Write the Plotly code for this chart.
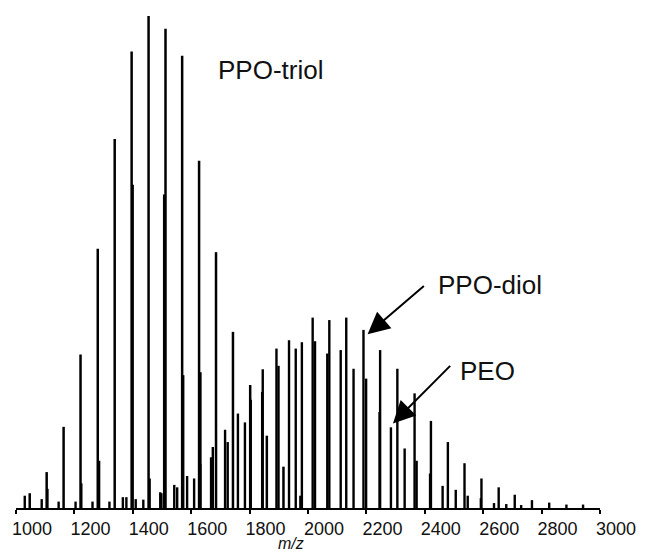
import plotly.graph_objects as go

# ---- data (m/z, relative intensity %) ----
triol_mz = [1047, 1105, 1163, 1221, 1280, 1338, 1396, 1454, 1512, 1569, 1627, 1685,
            1743, 1802, 1859, 1916, 1974]
triol_int = [3.0, 7.3, 16.5, 31.2, 52.7, 75.0, 92.8, 100.0, 97.4, 91.9, 70.6, 52.0,
             35.8, 25.0, 14.7, 8.4, 2.5]

diol_mz = [1030, 1088, 1146, 1204, 1262, 1320, 1378, 1436, 1494, 1552, 1610, 1668,
           1725, 1784, 1845, 1899, 1958, 2016, 2073, 2131, 2190, 2247, 2306, 2365,
           2421, 2479, 2536, 2594, 2653, 2708, 2767, 2826, 2885, 2942]
diol_int = [2.5, 1.8, 1.3, 1.3, 1.3, 1.3, 2.2, 1.7, 3.2, 4.2, 6.0, 10.3,
            13.4, 17.4, 28.2, 28.9, 32.4, 38.7, 38.2, 38.7, 36.2, 32.1, 28.3, 23.3,
            17.7, 13.4, 9.1, 6.0, 4.2, 2.7, 1.6, 1.1, 0.7, 0.7]

peo_mz = [1366, 1410, 1498, 1542, 1586, 1631, 1674, 1716, 1760, 1804, 1843, 1892,
          1935, 1979, 2024, 2066, 2112, 2156, 2199, 2245, 2284, 2331, 2372, 2418,
          2461, 2506, 2547, 2592, 2637, 2679, 2730]
peo_int = [2.2, 1.8, 3.0, 4.7, 6.5, 9.0, 12.4, 15.9, 19.2, 22.0, 23.6, 32.4,
           34.1, 33.7, 33.9, 31.4, 32.1, 28.3, 26.3, 19.5, 16.4, 12.1, 9.6, 7.0,
           4.5, 3.7, 2.5, 2.0, 1.0, 0.8, 0.6]

shoulder_mz = [1108, 1224, 1285, 1400, 1458, 1507, 1573, 1632]
shoulder_int = [3.9, 5.0, 9.6, 65.7, 6.0, 63.7, 27.0, 27.6]

tick_vals = [1000, 1200, 1400, 1600, 1800, 2000, 2200, 2400, 2600, 2800, 3000]
labels = ["PPO-triol", "PPO-diol", "PEO"]


def sticks(mz, inten):
    xs, ys = [], []
    for m, v in zip(mz, inten):
        xs += [m, m, None]
        ys += [0, v, None]
    return xs, ys


fig = go.Figure()
for mz, inten, w in [(shoulder_mz, shoulder_int, 2.2), (peo_mz, peo_int, 2.4),
                     (diol_mz, diol_int, 2.4), (triol_mz, triol_int, 2.5)]:
    xs, ys = sticks(mz, inten)
    fig.add_trace(go.Scatter(x=xs, y=ys, mode="lines",
                             line=dict(color="black", width=w),
                             hoverinfo="skip", showlegend=False))

font_family = "Liberation Sans, Arial, Helvetica, sans-serif"

fig.update_xaxes(range=[1000, 3000], tickvals=tick_vals,
                 ticktext=[str(t) for t in tick_vals],
                 showgrid=False, zeroline=False, showline=True,
                 linecolor="black", linewidth=2, ticks="outside", ticklen=4,
                 tickwidth=1.5, tickcolor="black", ticklabelshift=16,
                 ticklabelstandoff=-1,
                 tickfont=dict(family=font_family, size=18, color="#111"))
fig.update_yaxes(range=[0, 100], visible=False)

annotations = [
    dict(x=1871, y=89, text=labels[0], showarrow=False, xref="x", yref="y",
         font=dict(family=font_family, size=26, color="#111")),
    dict(x=2624, y=45.4, text=labels[1], showarrow=False, xref="x", yref="y",
         font=dict(family=font_family, size=26, color="#111")),
    dict(x=2613, y=27.8, text=labels[2], showarrow=False, xref="x", yref="y",
         font=dict(family=font_family, size=26, color="#111")),
    # arrows
    dict(x=2204, y=35.3, ax=2402, ay=45.4, axref="x", ayref="y", xref="x", yref="y",
         text="", showarrow=True, arrowhead=2, arrowsize=2.2, arrowwidth=2,
         arrowcolor="black"),
    dict(x=2291, y=17.2, ax=2492, ay=29.2, axref="x", ayref="y", xref="x", yref="y",
         text="", showarrow=True, arrowhead=2, arrowsize=2.2, arrowwidth=2,
         arrowcolor="black"),
    # axis title
    dict(x=1942, y=-45 / 492, xref="x", yref="paper", yanchor="bottom",
         text="<i>m/z</i>", showarrow=False, borderpad=0,
         font=dict(family=font_family, size=16, color="#111")),
]

fig.update_layout(width=648, height=553,
                  margin=dict(l=13, r=45, t=16, b=45),
                  paper_bgcolor="white", plot_bgcolor="white",
                  annotations=annotations, showlegend=False)

fig.write_html("out.html")
